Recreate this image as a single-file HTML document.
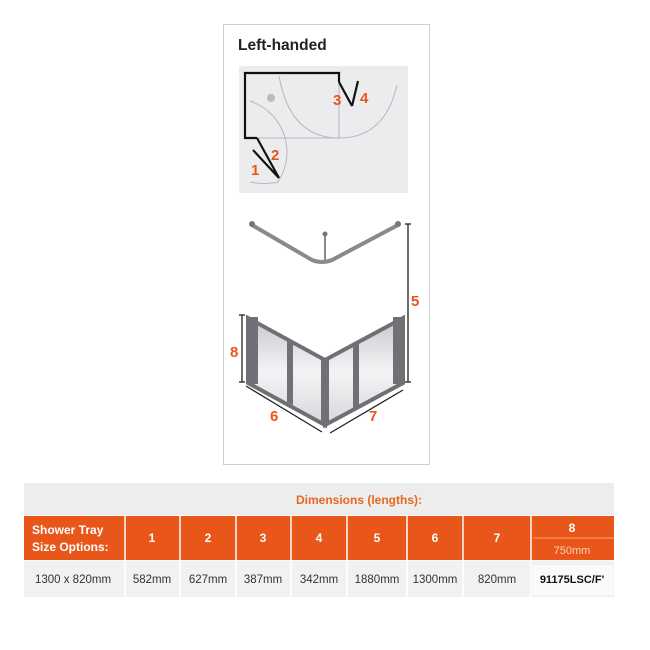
<!DOCTYPE html>
<html><head><style>
body{margin:0;background:#fff;width:650px;height:650px;overflow:hidden;font-family:"Liberation Sans",sans-serif}
svg{position:absolute;left:0;top:0}
</style></head><body>
<svg width="650" height="650" viewBox="0 0 650 650" font-family="Liberation Sans, sans-serif">
<defs>
<linearGradient id="gl" x1="0" y1="0" x2="0" y2="1"><stop offset="0" stop-color="#c8c8cc"/><stop offset="0.5" stop-color="#f4f4f6"/><stop offset="1" stop-color="#d8d8dc"/></linearGradient>
</defs>
<rect x="223.5" y="24.5" width="206" height="440" fill="#fff" stroke="#cfcfcf"/>
<text x="238" y="50" font-size="15.5" font-weight="bold" fill="#222">Left-handed</text>
<rect x="239" y="66" width="169" height="127" fill="#ececef"/>
<g fill="none" stroke="#b8b8bc" stroke-width="1">
<line x1="245" y1="138" x2="339" y2="138"/><line x1="339" y1="82" x2="339" y2="138"/>
<path d="M250,101 A54,54 0 0 1 278,182 Q265,185 250,182"/>
<path d="M279,76 Q290,138 339,138 Q385,138 397,85"/>
</g>
<circle cx="271" cy="98" r="4" fill="#bbb"/>
<g fill="none" stroke="#111" stroke-width="2.2">
<polyline points="257,138 245,138 245,73 339,73 339,82"/>
<line x1="253" y1="150" x2="279" y2="178"/><line x1="257" y1="138" x2="279" y2="178"/>
<line x1="339" y1="82" x2="352" y2="106"/><line x1="352" y1="106" x2="358" y2="81"/>
</g>
<g fill="#e8561a" font-weight="bold" font-size="15">
<text x="251" y="175">1</text><text x="271" y="160">2</text><text x="333" y="105">3</text><text x="360" y="103">4</text>
</g>
<g stroke="#8a8a8e" fill="none" stroke-linecap="round">
<path d="M252,225 L312,260 Q322,264 332,260 L398,225" stroke-width="4"/>
<line x1="325" y1="235" x2="325" y2="262" stroke-width="2"/>
</g>
<circle cx="252" cy="224" r="3" fill="#777"/><circle cx="398" cy="224" r="3" fill="#777"/><circle cx="325" cy="234" r="2.5" fill="#777"/>
<polygon points="248,318 325,360 325,425 248,383" fill="url(#gl)" stroke="#6f6f74" stroke-width="4"/>
<polygon points="325,360 403,318 403,383 325,425" fill="url(#gl)" stroke="#6f6f74" stroke-width="4"/>
<g fill="#707076">
<rect x="248" y="317" width="10" height="67"/><rect x="321" y="358" width="8" height="67"/><rect x="393" y="317" width="10" height="67"/>
<polygon points="287,338 293,341 293,405 287,402"/><polygon points="353,345 359,342 359,406 353,409"/>
</g>
<g stroke="#222" stroke-width="1.3">
<line x1="408" y1="224" x2="408" y2="382"/><line x1="405" y1="224" x2="411" y2="224"/><line x1="405" y1="382" x2="411" y2="382"/>
<line x1="242" y1="315" x2="242" y2="382"/><line x1="239" y1="315" x2="245" y2="315"/><line x1="239" y1="382" x2="245" y2="382"/>
<line x1="246" y1="386" x2="322" y2="432"/><line x1="330" y1="433" x2="403" y2="390"/>
</g>
<g fill="#e8561a" font-weight="bold" font-size="15">
<text x="411" y="306">5</text><text x="230" y="357">8</text><text x="270" y="421">6</text><text x="369" y="421">7</text>
</g>
<rect x="24" y="483" width="590" height="32" fill="#ededed"/>
<text x="359" y="504" font-size="12" font-weight="bold" fill="#e8661f" text-anchor="middle">Dimensions (lengths):</text>
<rect x="24" y="516" width="590" height="44" fill="#e8561a"/>
<rect x="24" y="561" width="590" height="36" fill="#f1f1f1"/>
<g stroke="#fff" stroke-width="1.5">
<line x1="125" y1="516" x2="125" y2="597"/><line x1="180" y1="516" x2="180" y2="597"/><line x1="236" y1="516" x2="236" y2="597"/><line x1="291" y1="516" x2="291" y2="597"/><line x1="347" y1="516" x2="347" y2="597"/><line x1="407" y1="516" x2="407" y2="597"/><line x1="463" y1="516" x2="463" y2="597"/><line x1="531" y1="516" x2="531" y2="597"/>
<line x1="533" y1="538" x2="614" y2="538" stroke="#f7a27a" stroke-width="1"/>
</g>
<g fill="#fff" font-size="12" font-weight="bold">
<text x="32" y="534">Shower Tray</text><text x="32" y="551">Size Options:</text>
</g>
<g fill="#fff" font-size="12" font-weight="bold" text-anchor="middle">
<text x="152" y="542">1</text><text x="208" y="542">2</text><text x="263" y="542">3</text><text x="319" y="542">4</text><text x="377" y="542">5</text><text x="435" y="542">6</text><text x="497" y="542">7</text><text x="572" y="532">8</text>
</g>
<text x="572" y="554" fill="#fbd0bb" font-size="11" text-anchor="middle">750mm</text>
<g fill="#333" font-size="11.5" text-anchor="middle">
<text x="73" y="583">1300 x 820mm</text><text x="152" y="583">582mm</text><text x="208" y="583">627mm</text><text x="263" y="583">387mm</text><text x="319" y="583">342mm</text><text x="377" y="583">1880mm</text><text x="435" y="583">1300mm</text><text x="497" y="583">820mm</text>
</g>
<rect x="533" y="565" width="80" height="30" fill="#fafafa"/>
<text x="572" y="583" fill="#111" font-size="11" font-weight="bold" text-anchor="middle">91175LSC/F'</text>
</svg>
</body></html>
